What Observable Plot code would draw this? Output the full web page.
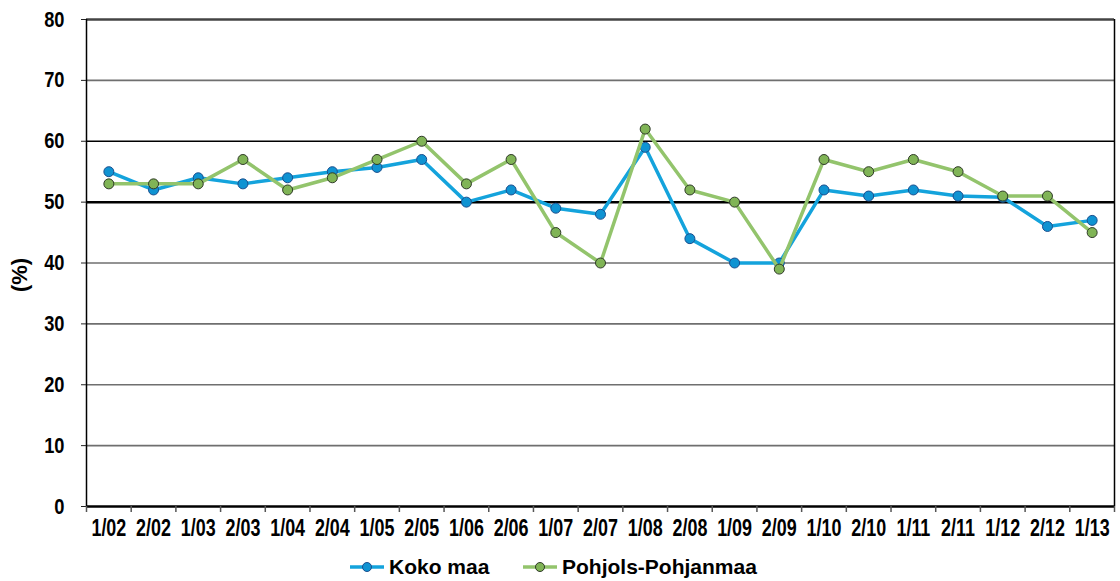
<!DOCTYPE html>
<html>
<head>
<meta charset="utf-8">
<script src="https://cdn.jsdelivr.net/npm/d3@7"></script>
<script src="https://cdn.jsdelivr.net/npm/@observablehq/plot@0.6"></script>
<style>
  html, body { margin: 0; padding: 0; background: #fff; }
  #wrap { position: relative; width: 1120px; height: 581px; font-family: "Liberation Sans", Arial, sans-serif; }
  #ylab { position: absolute; left: 20px; top: 275px; transform: translate(-50%, -50%) rotate(-90deg); font-weight: bold; font-size: 22px; color: #000; white-space: nowrap; }
  .leg { position: absolute; top: 552px; height: 30px; display: flex; align-items: center; font-weight: bold; font-size: 21px; color: #000; white-space: nowrap; }
  .leg svg { margin-right: 5px; }
</style>
</head>
<body>
<div id="wrap">
  <div id="chart"></div>
  <div id="ylab">(%)</div>
  <div id="legend"></div>
</div>
<script>
const categories = ["1/02","2/02","1/03","2/03","1/04","2/04","1/05","2/05","1/06","2/06","1/07","2/07","1/08","2/08","1/09","2/09","1/10","2/10","1/11","2/11","1/12","2/12","1/13"];
const kokoMaa = [55,52,54,53,54,55,55.7,57,50,52,49,48,59,44,40,40,52,51,52,51,50.8,46,47];
const pohjolsPohjanmaa = [53,53,53,57,52,54,57,60,53,57,45,40,62,52,50,39,57,55,57,55,51,51,45];
const seriesNames = ["Koko maa", "Pohjols-Pohjanmaa"];
const yTicks = [0,10,20,30,40,50,60,70,80];

const colors = {
  "Koko maa": {line: "#14a3dc", fill: "#0f93d2", dotStroke: "#1b4f8e"},
  "Pohjols-Pohjanmaa": {line: "#93c46c", fill: "#80b456", dotStroke: "#2f3a28"}
};

const rowsFor = (vals, name) => vals.map((v, i) => ({i, cat: categories[i], v, series: name}));
const koko = rowsFor(kokoMaa, seriesNames[0]);
const pohj = rowsFor(pohjolsPohjanmaa, seriesNames[1]);
const idx = categories.map((_, i) => i);
const edges = d3.range(categories.length + 1).map(i => i - 0.5);

const gridStroke = v => v === 50 || v === 60 ? "#000" : (v === 80 ? "#444" : "#6f6f6f");
const gridWidth = v => v === 50 ? 2.5 : (v === 80 ? 2.5 : 1.6);

const chart = Plot.plot({
  width: 1120,
  height: 548,
  marginTop: 19,
  marginBottom: 42,
  marginLeft: 86,
  marginRight: 6,
  style: {fontFamily: '"Liberation Sans", Arial, sans-serif', background: "#fff", color: "#000"},
  x: {type: "linear", domain: [-0.5, categories.length - 0.5]},
  y: {domain: [0, 80]},
  marks: [
    Plot.ruleY(yTicks.filter(v => v > 0), {y: d => d, stroke: gridStroke, strokeWidth: gridWidth}),
    Plot.ruleX([edges[0]], {stroke: "#000", strokeWidth: 1.5}),
    Plot.ruleX([edges[edges.length - 1]], {stroke: "#000", strokeWidth: 1.5}),
    Plot.ruleY([0], {stroke: "#000", strokeWidth: 2.5}),
    Plot.axisY(yTicks, {tickSize: 5, tickPadding: 17, fontSize: 22, fontWeight: "bold", stroke: "#222", label: null}),
    Plot.axisX(edges, {tickSize: 6, tickFormat: () => "", stroke: "#555", strokeWidth: 1.5, label: null}),
    Plot.axisX(idx, {tickSize: 0, tickPadding: 13, tickFormat: i => categories[i], fontSize: 23, fontWeight: "bold", label: null}),
    Plot.line(koko, {x: "i", y: "v", stroke: colors["Koko maa"].line, strokeWidth: 3.5}),
    Plot.dot(koko, {x: "i", y: "v", r: 5, fill: colors["Koko maa"].fill, stroke: colors["Koko maa"].dotStroke, strokeWidth: 1}),
    Plot.line(pohj, {x: "i", y: "v", stroke: colors["Pohjols-Pohjanmaa"].line, strokeWidth: 3.5}),
    Plot.dot(pohj, {x: "i", y: "v", r: 5, fill: colors["Pohjols-Pohjanmaa"].fill, stroke: colors["Pohjols-Pohjanmaa"].dotStroke, strokeWidth: 1})
  ]
});
document.getElementById("chart").appendChild(chart);

// condense tick label glyphs horizontally, like the reference's narrow bold type
const condense = (sel, k) => {
  chart.querySelectorAll(sel).forEach(t => {
    const len = t.getComputedTextLength();
    if (len > 0) {
      t.setAttribute("textLength", (len * k).toFixed(1));
      t.setAttribute("lengthAdjust", "spacingAndGlyphs");
    }
  });
};
condense('g[aria-label="y-axis tick label"] text', 0.83);
condense('g[aria-label="x-axis tick label"] text', 0.78);

const legend = document.getElementById("legend");
const legLefts = [350, 523];
seriesNames.forEach((name, k) => {
  const c = colors[name];
  const item = document.createElement("div");
  item.className = "leg";
  item.style.left = legLefts[k] + "px";
  item.innerHTML = `<svg width="34" height="12"><line x1="0" y1="6" x2="34" y2="6" stroke="${c.line}" stroke-width="3.5"/><circle cx="17" cy="6" r="4.5" fill="${c.fill}" stroke="${c.dotStroke}" stroke-width="1"/></svg><span>${name}</span>`;
  legend.appendChild(item);
});
</script>
</body>
</html>
